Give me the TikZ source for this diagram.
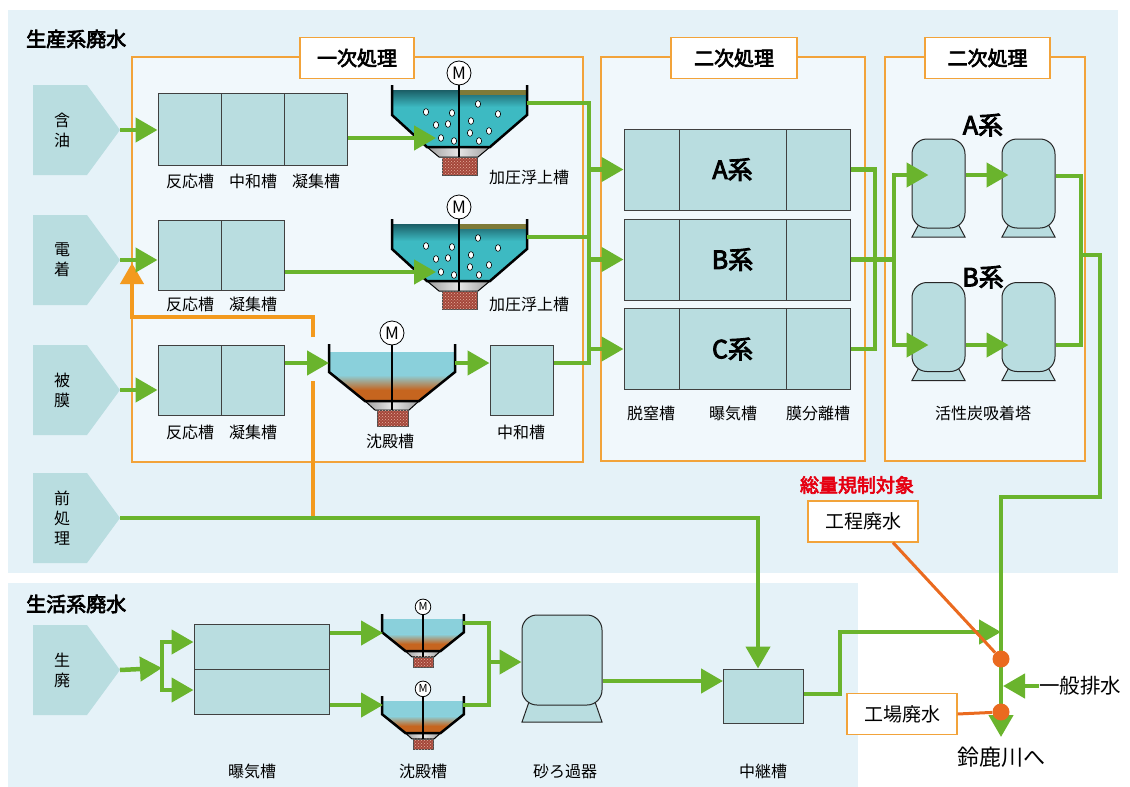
\documentclass[tikz,border=0pt]{standalone}
\usepackage{fontspec}
\setmainfont{Noto Sans CJK JP}[AutoFakeBold=3.5]
\usetikzlibrary{arrows.meta,positioning,patterns}

\definecolor{bgblue}{HTML}{E5F2F8}
\definecolor{panelbg}{HTML}{F1F8FC}
\definecolor{tankfill}{HTML}{B9DDE0}
\definecolor{srcfill}{HTML}{B9DDE0}
\definecolor{flowgreen}{HTML}{6AB42D}
\definecolor{panelorange}{HTML}{F2A33A}
\definecolor{retorange}{HTML}{F39A1E}
\definecolor{dotorange}{HTML}{EA6A1F}
\definecolor{alertred}{HTML}{E60012}
\definecolor{floatteal}{HTML}{3DBAC2}
\definecolor{floatdark}{HTML}{1B5E66}
\definecolor{scum}{HTML}{7E7A38}
\definecolor{setblue}{HTML}{8AD0DB}
\definecolor{sludgeor}{HTML}{C6651F}
\definecolor{sludgebox}{HTML}{A4473A}
\definecolor{sludgedot}{HTML}{E8B0A0}

\tikzset{
  % pentagon tag for an inflow, text stacked vertically
  pics/source/.style={code={
    \fill[srcfill] (-27,-45) -- (27,-45) -- (60,0) -- (27,45) -- (-27,45) -- cycle;
    \node[srctxt] (-txt) at (2,0) {#1};
    \coordinate (-tip) at (60,0);
  }},
  % pressurised flotation tank with motor, bubbles and scum
  pics/floattank/.style={code={
    \begin{scope}
      \clip (-67,5) -- (68,5) -- (68,30) -- (31,62) -- (-32,62) -- (-67,30) -- cycle;
      \shade[top color=floatdark,bottom color=floatteal] (-67,5) rectangle (68,22);
      \fill[floatteal] (-67,22) rectangle (68,62);
      \fill[scum] (1,4) rectangle (68,10);
    \end{scope}
    \foreach \bx/\by in {-33/27,-7/28,-23/40,-11/39,-18/53,-5/56,19/19,39/29,12/36,30/46,11/48,20/56}
      \filldraw[bubble] (\bx,\by) ellipse (2.6pt and 3.4pt);
    \shade[left color=gray!75,right color=gray!75,middle color=gray!20] (-32,62) -- (31,62) -- (19,72) -- (-20,72) -- cycle;
    \draw[hopper] (-32,62) -- (31,62) -- (19,72) -- (-20,72) -- cycle;
    \filldraw[sludge] (-17,72) rectangle (18,90);
    \fill[pattern=crosshatch dots,pattern color=sludgedot] (-17,72) rectangle (18,90);
    \draw[tankwall] (-67,0) -- (-67,30) -- (-32,62) -- (31,62) -- (68,30) -- (68,0);
    \node[motor] (-m) at (0,-12) {M};
    \draw[line width=1.2pt] (-m.south) -- (0,72);
    \coordinate (-in) at (-23,53);
    \coordinate (-out) at (68,18);
  }},
  % settling tank, sludge settled at the bottom
  pics/settletank/.style={code={
    \begin{scope}
      \clip (-63,8) -- (63,8) -- (63,28) -- (27,57) -- (-27,57) -- (-63,28) -- cycle;
      \fill[setblue] (-63,8) rectangle (63,31);
      \shade[top color=setblue,bottom color=sludgeor] (-63,31) rectangle (63,46);
      \fill[sludgeor] (-63,46) rectangle (63,57);
    \end{scope}
    \shade[left color=gray!75,right color=gray!75,middle color=gray!20] (-27,57) -- (27,57) -- (17,66) -- (-17,66) -- cycle;
    \draw[hopper] (-27,57) -- (27,57) -- (17,66) -- (-17,66) -- cycle;
    \filldraw[sludge] (-15,66) rectangle (16,82);
    \fill[pattern=crosshatch dots,pattern color=sludgedot] (-15,66) rectangle (16,82);
    \draw[tankwall] (-63,0) -- (-63,28) -- (-27,57) -- (27,57) -- (63,28) -- (63,0);
    \node[motor] (-m) at (0,-11) {M};
    \draw[line width=1.2pt] (-m.south) -- (0,66);
  }},
  % vessel on a foot: width, height, foot depth
  pics/vessel/.style n args={3}{code={
    \filldraw[vesselbase] (-#1/2+8,#2/2-6) -- (#1/2-8,#2/2-6) -- (#1/2,#2/2+#3) -- (-#1/2,#2/2+#3) -- cycle;
    \node[vesselbody,minimum width=#1pt,minimum height=#2pt] (-body) at (0,0) {};
  }}
}

\begin{document}
\begin{tikzpicture}[x=1pt,y=-1pt,line join=miter,
  box/.style={draw=black!75,fill=tankfill,line width=1pt,inner sep=0pt},
  lbl/.style={font=\fontsize{16}{19}\selectfont,inner sep=0pt},
  srctxt/.style={font=\fontsize{16}{20}\selectfont,align=center,inner sep=0pt},
  title/.style={font=\bfseries\fontsize{20}{22}\selectfont,anchor=west,inner sep=0pt},
  header/.style={draw=panelorange,fill=white,line width=1.5pt,minimum height=41pt,font=\bfseries\fontsize{20}{22}\selectfont},
  panel/.style={draw=panelorange,fill=panelbg,line width=1.2pt},
  sysname/.style={font=\bfseries\fontsize{25}{27}\selectfont,inner sep=0pt},
  note/.style={draw=panelorange,fill=white,line width=1.2pt,minimum width=110pt,minimum height=41pt,font=\fontsize{19}{21}\selectfont},
  flow/.style={draw=flowgreen,line width=4.5pt},
  flowto/.style={flow,-{Triangle[length=22pt,width=24pt]}},
  retline/.style={draw=retorange,line width=4pt},
  sideline/.style={draw=dotorange,line width=3pt},
  joint/.style={circle,fill=dotorange,minimum size=17pt,inner sep=0pt},
  motor/.style={circle,draw,fill=white,line width=0.8pt,minimum size=24pt,inner sep=0pt,font=\fontsize{17}{17}\selectfont,transform shape},
  tankwall/.style={line width=2.5pt},
  hopper/.style={line width=1pt},
  bubble/.style={fill=white,draw=black,line width=0.6pt},
  sludge/.style={fill=sludgebox,draw=black!70,line width=0.8pt},
  vesselbody/.style={draw=black!85,fill=tankfill,line width=1pt,rounded corners=15pt,inner sep=0pt},
  vesselbase/.style={draw=black!85,fill=tankfill,line width=1pt}]

\useasboundingbox (0,0) rectangle (1130,787);
% areas
\fill[bgblue] (8,10) rectangle (1118,573);
\fill[bgblue] (8,583) rectangle (858,787);
\node[title] (prodtitle) at (26,39) {生産系廃水};
\node[title] (lifetitle) at (26,604) {生活系廃水};

% treatment stages
\draw[panel] (132,57) rectangle (583,462);
\draw[panel] (601,57) rectangle (865,461);
\draw[panel] (885,57) rectangle (1085,461);
\node[header,minimum width=114pt] (h1) at (357,58) {一次処理};
\node[header,minimum width=126pt] (h2) at (734,58) {二次処理};
\node[header,minimum width=125pt] (h3) at (987.5,58) {二次処理};

% inflows
\pic (oil) at (60,130) {source={含\\油}};
\pic (elec) at (60,260) {source={電\\着}};
\pic (coat) at (60,390) {source={被\\膜}};
\pic (pre) at (60,518) {source={前\\処\\理}};
\pic (life) at (60,670) {source={生\\廃}};

% primary treatment
\node[box,minimum width=63pt,minimum height=72pt] (r1a) at (189.5,129) {};
\node[box,minimum width=63pt,minimum height=72pt] (r1b) at (252.5,129) {};
\node[box,minimum width=63pt,minimum height=72pt] (r1c) at (315.5,129) {};
\node[lbl] (r1a-l) at (190,181) {反応槽};
\node[lbl] (r1b-l) at (253,181) {中和槽};
\node[lbl] (r1c-l) at (316,181) {凝集槽};
\node[box,minimum width=63pt,minimum height=70pt] (r2a) at (189.5,255) {};
\node[box,minimum width=63pt,minimum height=70pt] (r2b) at (252.5,255) {};
\node[lbl] (r2a-l) at (190,304) {反応槽};
\node[lbl] (r2b-l) at (253,304) {凝集槽};
\node[box,minimum width=63pt,minimum height=70pt] (r3a) at (189.5,380) {};
\node[box,minimum width=63pt,minimum height=70pt] (r3b) at (252.5,380) {};
\node[lbl] (r3a-l) at (190,432) {反応槽};
\node[lbl] (r3b-l) at (253,432) {凝集槽};

\pic (ft1) at (459,85) {floattank};
\pic (ft2) at (459,219) {floattank};
\node[lbl] (ft1-l) at (529,177) {加圧浮上槽};
\node[lbl] (ft2-l) at (529,304) {加圧浮上槽};
\pic (st) at (392,344) {settletank};
\node[lbl] (st-l) at (390,441) {沈殿槽};
\node[box,minimum width=63pt,minimum height=70pt] (neu) at (521.5,380) {};
\node[lbl] (neu-l) at (521,432) {中和槽};

% secondary treatment
\foreach \s/\y in {a/169.5,b/259.5,c/349}{
  \node[box,minimum width=55pt,minimum height=81pt] (\s1) at (651.5,\y) {};
  \node[box,minimum width=107pt,minimum height=81pt] (\s2) at (732.5,\y) {};
  \node[box,minimum width=64pt,minimum height=81pt] (\s3) at (818,\y) {};
}
\node[sysname] (a-name) at (a2) {A系};
\node[sysname] (b-name) at (b2) {B系};
\node[sysname] (c-name) at (c2) {C系};
\node[lbl] (a1-l) at (651,413) {脱窒槽};
\node[lbl] (a2-l) at (733,413) {曝気槽};
\node[lbl] (a3-l) at (818,413) {膜分離槽};

\pic (ta1) at (938.5,183.5) {vessel={53}{89}{9}};
\pic (ta2) at (1028.5,183.5) {vessel={53}{89}{9}};
\pic (tb1) at (938.5,327) {vessel={53}{89}{9}};
\pic (tb2) at (1028.5,327) {vessel={53}{89}{9}};
\node[sysname] (ta-name) at (983,125) {A系};
\node[sysname] (tb-name) at (983,277) {B系};
\node[lbl] (tower-l) at (983,413) {活性炭吸着塔};

% domestic line
\node[box,minimum width=135pt,minimum height=45pt] (aer1) at (261.5,646.5) {};
\node[box,minimum width=135pt,minimum height=45pt] (aer2) at (261.5,691.5) {};
\pic[scale=0.65] (lt1) at (423,614) {settletank};
\pic[scale=0.65] (lt2) at (423,696) {settletank};
\pic (sand) at (562,660) {vessel={80}{90}{17}};
\node[box,minimum width=80pt,minimum height=54pt] (relay) at (763,696) {};
\node[lbl] (aer-l) at (252,771) {曝気槽};
\node[lbl] (lt-l) at (423,771) {沈殿槽};
\node[lbl] (sand-l) at (565,771) {砂ろ過器};
\node[lbl] (relay-l) at (763,771) {中継槽};

% junction points
\coordinate (mix) at (589,363);
\coordinate (st-in) at (329,363);
\coordinate (st-out) at (455,363);
\coordinate (m1) at (875,169.5);
\coordinate (m2) at (875,349);
\coordinate (n1) at (894,175);
\coordinate (n2) at (894,345);
\coordinate (o1) at (1081,176);
\coordinate (o2) at (1081,345);
\coordinate (o3) at (1081,255);
\coordinate (o4) at (1100,255);
\coordinate (o6) at (1001,497);
\coordinate (outfall) at (1001,737);
\coordinate (pre1) at (758,518);
\coordinate (sp) at (162,668);
\coordinate (sp1) at (162,642);
\coordinate (sp2) at (162,690);
\coordinate (lt1-in) at (383,633);
\coordinate (lt2-in) at (383,705);
\coordinate (lt1-out) at (463,623);
\coordinate (lt2-out) at (463,705);
\coordinate (lj) at (489,662);
\coordinate (feed) at (723,681);
\coordinate (rl1) at (840,694);
\coordinate (rl2) at (840,632);
\coordinate (ret0) at (313,518);
\coordinate (retgap1) at (313,381);
\coordinate (retgap2) at (313,337);
\coordinate (ret1) at (313,317);
\coordinate (ret2) at (132,317);
\coordinate (ret3) at (132,263);

% return of pretreatment water
\draw[retline] (ret0) -- (retgap1);
\draw[retline,-{Triangle[length=21pt,width=23pt]}] (retgap2) -- (ret1) -- (ret2) -- (ret3);

% green flows
\draw[flowto] (oil-tip) -- (oil-tip -| r1a.west);
\draw[flowto] (elec-tip) -- (elec-tip -| r2a.west);
\draw[flowto] (coat-tip) -- (coat-tip -| r3a.west);
\draw[flowto] (ft1-in -| r1c.east) -- (ft1-in);
\draw[flowto] (ft2-in -| r2b.east) -- (ft2-in);
\draw[flowto] (st-in -| r3b.east) -- (st-in);
\draw[flowto] (st-out) -- (st-out -| neu.west);
\draw[flow] (ft1-out) -| (mix) -- (mix -| neu.east);
\draw[flow] (ft2-out) -- (ft2-out -| mix);
\foreach \s in {a1,b1,c1} \draw[flowto] (mix |- \s.west) -- (\s.west);
\draw[flow] (a3.east) -- (m1) -- (m2) -- (c3.east);
\draw[flow] (b3.east) -- (b3.east -| n1);
\draw[flowto,shorten >=-17pt] (n2) -- (n1) -- (n1 -| ta1-body.west);
\draw[flowto,shorten >=-17pt] (n1) -- (n2) -- (n2 -| tb1-body.west);
\draw[flowto,shorten >=-7pt] (ta1-body.east |- n1) -- (n1 -| ta2-body.west);
\draw[flowto,shorten >=-7pt] (tb1-body.east |- n2) -- (n2 -| tb2-body.west);
\draw[flow] (ta2-body.east |- o1) -- (o1) -- (o2) -- (tb2-body.east |- o2);
\draw[flowto] (o3) -- (o4) |- (o6) -- (outfall);
\draw[flowto] (pre-tip) -- (pre1) -- (pre1 |- relay.north);

\draw[flowto] (life-tip) -- (sp);
\draw[flowto] (sp2) -- (sp1) -- (sp1 -| aer1.west);
\draw[flowto] (sp1) -- (sp2) -- (sp2 -| aer2.west);
\draw[flowto] (lt1-in -| aer1.east) -- (lt1-in);
\draw[flowto] (lt2-in -| aer2.east) -- (lt2-in);
\draw[flow] (lt1-out) -| (lj);
\draw[flow] (lt2-out) -| (lj);
\draw[flowto] (lj) -- (lj -| sand-body.west);
\draw[flowto] (feed -| sand-body.east) -- (feed);
\draw[flowto] (relay.east |- rl1) -- (rl1) -- (rl2) -- (rl2 -| o6);

% discharge
\node[font=\fontsize{20.5}{22}\selectfont,anchor=west,inner sep=0pt] (general) at (1039,686) {一般排水};
\draw[flowto,shorten >=2pt] (general.west) -- (general.west -| o6);
\node[font=\fontsize{22}{24}\selectfont,inner sep=0pt,below=10pt of outfall] (river) {鈴鹿川へ};
\node[note] (kotei) at (863,521.5) {工程廃水};
\node[note] (kojo) at (902,714) {工場廃水};
\node[font=\bfseries\fontsize{19}{21}\selectfont,text=alertred,inner sep=0pt] (regtarget) at (857,485) {総量規制対象};
\node[joint] (d1) at (1001,659) {};
\node[joint] (d2) at (1001,712) {};
\draw[sideline] ([xshift=30pt]kotei.south) -- (d1);
\draw[sideline] (kojo.east) -- (d2);
\end{tikzpicture}
\end{document}
